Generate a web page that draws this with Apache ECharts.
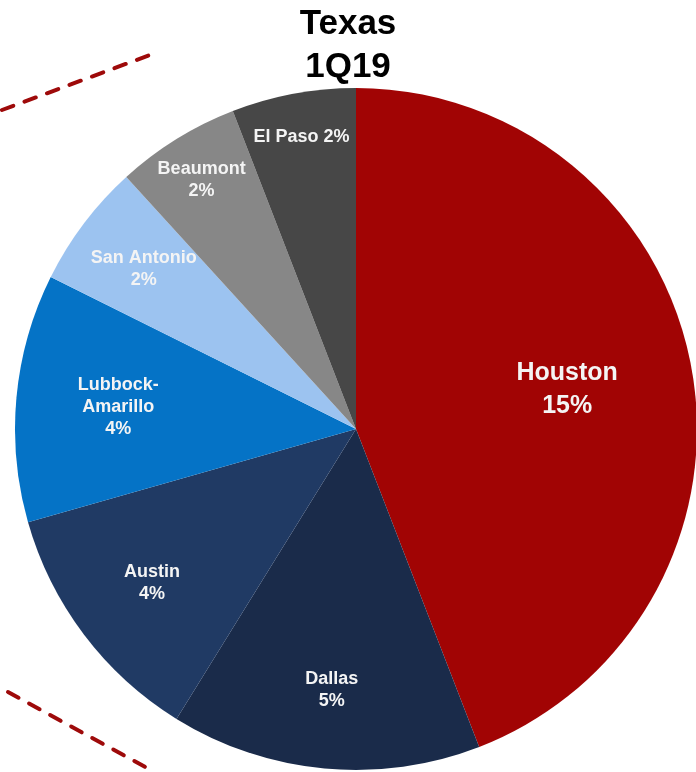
<!DOCTYPE html>
<html>
<head>
<meta charset="utf-8">
<script src="https://cdn.jsdelivr.net/npm/echarts@6/dist/echarts.min.js"></script>
<style>
  html, body { margin: 0; padding: 0; background: #fff; }
  #chart { width: 696px; height: 772px; }
</style>
</head>
<body>
<div id="chart"></div>
<script>
// Market share by metro, Texas 1Q19
const regions = ['Houston', 'Dallas', 'Austin', 'Lubbock-\nAmarillo', 'San Antonio', 'Beaumont', 'El Paso'];
const shares = [15, 5, 4, 4, 2, 2, 2];
const sliceColors = ['#A10404', '#1A2B4A', '#203A64', '#0573C6', '#9CC3F0', '#878787', '#474747'];
// how far out (fraction of radius) each label sits along its slice's bisector
const labelRadiusFrac = [0.63, 0.77, 0.75, 0.70, 0.78, 0.86, 0.87];

const CX = 356, CY = 429, R = 341;
const FONT = "'Liberation Sans', Arial, Helvetica, sans-serif";

const total = shares.reduce((a, b) => a + b, 0);
const midAngles = [];
let acc = 0;
shares.forEach(v => {
  midAngles.push((acc + v / 2) / total * 2 * Math.PI);
  acc += v;
});

const chart = echarts.init(document.getElementById('chart'), null, { renderer: 'canvas' });

const dash = {
  stroke: '#9E0A0A',
  lineWidth: 4,
  lineDash: [12, 12],
  lineCap: 'round'
};

chart.setOption({
  animation: false,
  backgroundColor: '#ffffff',
  title: {
    text: 'Texas\n1Q19',
    left: 'center',
    top: -2,
    textStyle: {
      fontFamily: FONT,
      fontWeight: 'bold',
      fontSize: 35,
      lineHeight: 43,
      color: '#000'
    }
  },
  graphic: [
    { type: 'line', shape: { x1: 2, y1: 110, x2: 158, y2: 52 }, style: dash, z: 10 },
    { type: 'line', shape: { x1: 8, y1: 692, x2: 147, y2: 768 }, style: dash, z: 10 }
  ],
  series: [{
    type: 'pie',
    center: [CX, CY],
    radius: [0, R],
    startAngle: 90,
    clockwise: true,
    silent: true,
    itemStyle: { borderWidth: 0 },
    label: {
      show: true,
      position: 'inside',
      color: '#F4F4F4',
      fontFamily: FONT,
      fontWeight: 'bold',
      fontSize: 18,
      lineHeight: 22,
      formatter: p => p.dataIndex === 6 ? `${p.name} ${p.value}%` : `${p.name}\n${p.value}%`
    },
    labelLine: { show: false },
    labelLayout: p => {
      const i = p.dataIndex;
      const a = midAngles[i];
      const r = R * labelRadiusFrac[i];
      return {
        x: CX + r * Math.sin(a),
        y: CY - r * Math.cos(a),
        align: 'center',
        verticalAlign: 'middle'
      };
    },
    data: regions.map((name, i) => {
      const item = { name, value: shares[i], itemStyle: { color: sliceColors[i] } };
      if (i === 0) item.label = { fontSize: 25, lineHeight: 33 };
      return item;
    })
  }]
});
</script>
</body>
</html>
